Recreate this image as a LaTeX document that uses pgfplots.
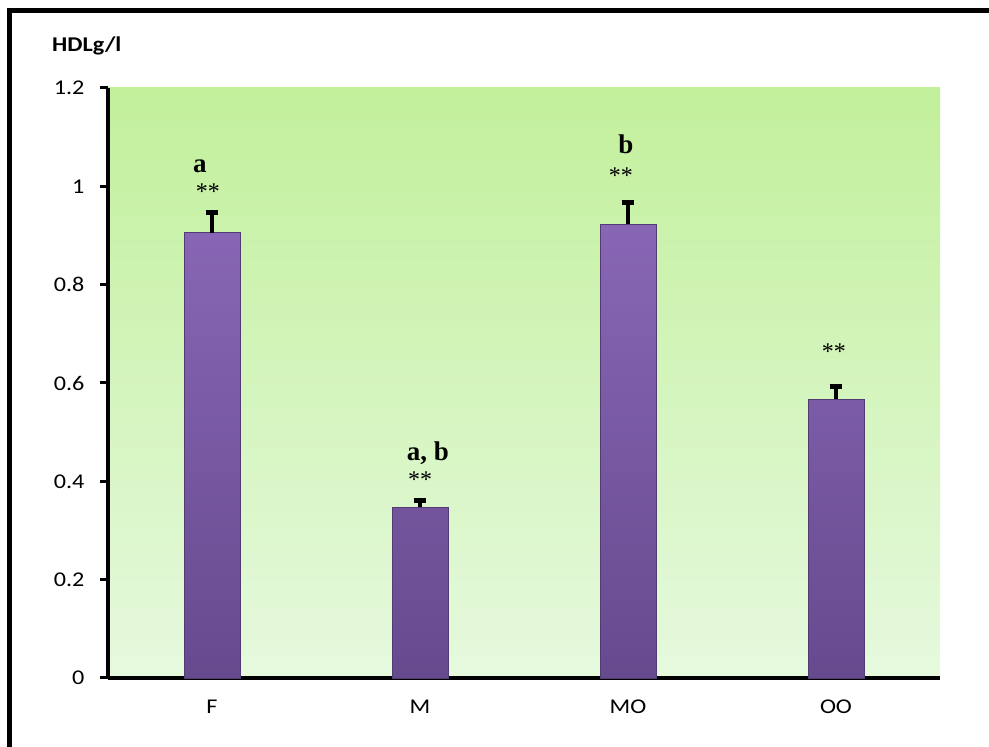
\documentclass[border=0pt]{standalone}
\usepackage{fontspec}
\setmainfont{Carlito}
\newfontfamily\tickfont{Carlito}[FakeStretch=1.15]
\newfontfamily\seriffont{Liberation Serif}
\usepackage{pgfplots}
\pgfplotsset{compat=1.18}
\definecolor{bgtop}{HTML}{C2F09B}
\definecolor{bgbot}{HTML}{E6F9DE}
\definecolor{bartop}{HTML}{8866B5}
\definecolor{barbot}{HTML}{664A8E}
\begin{document}
\begin{tikzpicture}[x=1pt,y=1pt]
\path[use as bounding box] (0,0) rectangle (989,747);
% outer frame (left and top edges)
\draw[line width=5pt] (9.8,0) -- (9.8,736.2) -- (989,736.2);
% y-axis title
\node[anchor=base west, font=\tickfont\bfseries\fontsize{21}{21}\selectfont, inner sep=0pt] at (52,695) {HDLg/l};
\begin{axis}[
  at={(108pt,69pt)}, anchor=south west,
  scale only axis, width=832pt, height=590pt,
  xmin=-0.5, xmax=3.5, ymin=0, ymax=1.2,
  axis x line*=bottom, axis y line*=left,
  axis line style={line width=3.5pt,-},
  axis background/.style={top color=bgtop, bottom color=bgbot},
  xtick={0,1,2,3}, xticklabels={F,M,MO,OO},
  ytick={0,0.2,0.4,0.6,0.8,1,1.2},
  yticklabels={0,0.2,0.4,0.6,0.8,1,1.2},
  tick align=outside,
  major tick length=8pt,
  y tick style={line width=3pt, black},
  x tick style={draw=none},
  tick label style={font=\tickfont\fontsize{21}{21}\selectfont},
  x tick label style={anchor=center, yshift=-21pt},
  y tick label style={anchor=east, xshift=-12pt},
  clip=false,
]
\addplot[ybar, bar width=56pt, top color=bartop, bottom color=barbot,
  draw=barbot!80!black, line width=0.6pt,
  error bars/.cd, y dir=plus, y explicit,
  error bar style={line width=4.3pt, black},
  error mark options={rotate=90, line width=5pt, mark size=6.3pt, black}]
  coordinates {
    (0,0.906) +- (0,0.041)
    (1,0.347) +- (0,0.013)
    (2,0.923) +- (0,0.044)
    (3,0.567) +- (0,0.026)
  };
% significance letters and stars
\node[anchor=base, font=\seriffont\bfseries\fontsize{27}{27}\selectfont, inner sep=0pt] at (axis cs:-0.058,1.029) {a};
\node[anchor=base, font=\seriffont\bfseries\fontsize{27}{27}\selectfont, inner sep=0pt] at (axis cs:1.038,0.443) {a, b};
\node[anchor=base, font=\seriffont\bfseries\fontsize{27}{27}\selectfont, inner sep=0pt] at (axis cs:1.99,1.066) {b};
\node[anchor=center, font=\seriffont\fontsize{24}{24}\selectfont, inner sep=0pt] at (axis cs:-0.02,0.990) {**};
\node[anchor=center, font=\seriffont\fontsize{24}{24}\selectfont, inner sep=0pt] at (axis cs:1.0,0.403) {**};
\node[anchor=center, font=\seriffont\fontsize{24}{24}\selectfont, inner sep=0pt] at (axis cs:1.966,1.021) {**};
\node[anchor=center, font=\seriffont\fontsize{24}{24}\selectfont, inner sep=0pt] at (axis cs:2.99,0.663) {**};
\end{axis}
\end{tikzpicture}
\end{document}
